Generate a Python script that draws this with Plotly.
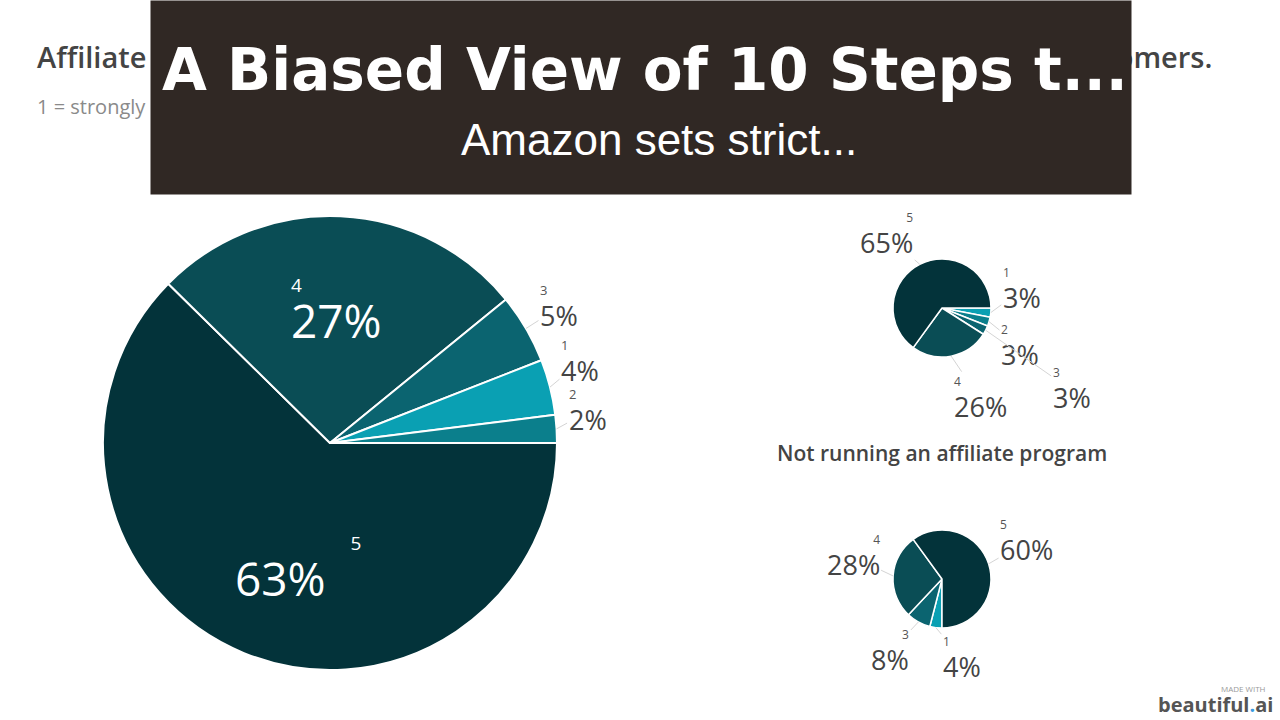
import math
import plotly.graph_objects as go

W, H = 1280, 720

# ---- data ----
main_labels = ["5", "4", "3", "1", "2"]
main_values = [63, 27, 5, 4, 2]
main_colors = ["#03333a", "#0a4d55", "#0b6470", "#0aa0b3", "#0b7f8c"]

run_labels = ["1", "2", "3", "4", "5"]
run_values = [3, 3, 3, 26, 65]
run_colors = ["#0aa0b3", "#0b7f8c", "#0b6470", "#0a4d55", "#03333a"]

not_labels = ["1", "3", "4", "5"]
not_values = [4, 8, 28, 60]
not_colors = ["#0aa0b3", "#0b6470", "#0a4d55", "#03333a"]

title_left = "Affiliate programs"
title_right = "new customers."
subtitle_text = "1 = strongly disagree, 5 = strongly agree"
run_title = "Running an affiliate program"
not_title = "Not running an affiliate program"
banner_title = "A Biased View of 10 Steps t..."
banner_sub = "Amazon sets strict..."
brand_small = "MADE WITH"
brand = "beautiful<span style='color:#3a9be0'>.</span>ai"

FONT = "Open Sans"

# ---- layout / style (pixels) ----
MAIN = dict(cx=330, cy=443, r=227, rot=90)
RUN = dict(cx=942, cy=308, r=49, rot=90)
NOT = dict(cx=942, cy=579, r=49, rot=180)

# label placement styles
MAIN_LBL = {"5": ("in", 0.60, 20, "right"), "4": ("in", 0.58, 0, "left"),
            "3": ("out", 33, -21, "left"), "1": ("out", 30, -25, "left"),
            "2": ("out", 31, -17, "left")}
RUN_LBL = {"1": (31, -23, "left"), "2": (31, 25, "left"), "3": (86, 60, "left"),
           "4": (29, 43, "left"), "5": (-33, -29, "right")}
NOT_LBL = {"1": (26, 31, "left"), "3": (-28, 30, "right"), "4": (-40, -19, "right"),
           "5": (38, -22, "left")}


def px(x):
    return x / W


def py(y):
    return 1 - y / H


def dom(p):
    return dict(x=[px(p["cx"] - p["r"]), px(p["cx"] + p["r"])],
                y=[py(p["cy"] + p["r"]), py(p["cy"] - p["r"])])


def mid_angles(values, rot):
    """clockwise angles (deg from 12 o'clock) of slice middles"""
    tot = sum(values)
    out, cum = [], 0
    for v in values:
        out.append(rot + 360.0 * (cum + v / 2) / tot)
        cum += v
    return out


def point(p, theta, k=1.0):
    t = math.radians(theta)
    return p["cx"] + k * p["r"] * math.sin(t), p["cy"] - k * p["r"] * math.cos(t)


def pie(labels, values, colors, p, lw):
    return go.Pie(
        labels=labels, values=values, sort=False,
        direction="clockwise", rotation=p["rot"],
        marker=dict(colors=colors, line=dict(color="white", width=lw)),
        domain=dom(p), textinfo="none",
        showlegend=False, hoverinfo="skip",
    )


def out_label(p, theta, lab, val, dx, dy, align, dsize=12):
    x, y = point(p, theta)
    return dict(
        x=px(x), y=py(y), xref="paper", yref="paper",
        text=(f"<span style='font-size:{dsize}px;color:#555555'>{lab}</span><br>"
              f"<span style='font-size:27px'>{val}%</span>"),
        showarrow=True, arrowhead=0, arrowwidth=1, arrowcolor="#d4d4d4",
        ax=dx, ay=dy, align=align,
        font=dict(family=FONT, size=24, color="#444444"),
    )


fig = go.Figure()
fig.add_trace(pie(main_labels, main_values, main_colors, MAIN, 2))
fig.add_trace(pie(run_labels, run_values, run_colors, RUN, 1.5))
fig.add_trace(pie(not_labels, not_values, not_colors, NOT, 1.5))

ann = []
# big pie labels
for lab, val, th in zip(main_labels, main_values, mid_angles(main_values, MAIN["rot"])):
    kind, a, b, align = MAIN_LBL[lab]
    if kind == "in":
        x, y = point(MAIN, th, a)
        pad = "&nbsp;&nbsp;&nbsp;" if align == "right" else ""
        ann.append(dict(
            x=px(x), y=py(y), xref="paper", yref="paper", showarrow=False,
            xanchor="center", yanchor="middle", xshift=b, align=align,
            text=(f"<span style='font-size:19px'>{lab}</span><br>"
                  f"<span style='font-size:46px'>{val}%{pad}</span>"),
            font=dict(family=FONT, size=35, color="white"),
        ))
    else:
        ann.append(out_label(MAIN, th, lab, val, a, b, align, dsize=13))

for lab, val, th in zip(run_labels, run_values, mid_angles(run_values, RUN["rot"])):
    dx, dy, align = RUN_LBL[lab]
    ann.append(out_label(RUN, th, lab, val, dx, dy, align))

for lab, val, th in zip(not_labels, not_values, mid_angles(not_values, NOT["rot"])):
    dx, dy, align = NOT_LBL[lab]
    ann.append(out_label(NOT, th, lab, val, dx, dy, align))

texts = []
texts.append(dict(text=title_left, x=px(35), y=py(57), xanchor="left", yanchor="middle",
                  font=dict(family=FONT, size=29, color="#444444", weight=600)))
texts.append(dict(text=title_right, x=px(1214), y=py(57), xanchor="right", yanchor="middle",
                  font=dict(family=FONT, size=29, color="#444444", weight=600)))
texts.append(dict(text=subtitle_text, x=px(35), y=py(106), xanchor="left", yanchor="middle",
                  font=dict(family=FONT, size=20, color="#8a8a8a")))
texts.append(dict(text=run_title, x=px(938), y=py(175), xanchor="center", yanchor="middle",
                  font=dict(family=FONT, size=21, color="#444444", weight=600)))
texts.append(dict(text=not_title, x=px(942), y=py(453), xanchor="center", yanchor="middle",
                  font=dict(family=FONT, size=21, color="#444444", weight=600)))
texts.append(dict(text=brand_small, x=px(1243), y=py(688), xanchor="center", yanchor="middle",
                  font=dict(family=FONT, size=8, color="#9a9a9a")))
texts.append(dict(text=brand, x=px(1215), y=py(704), xanchor="center", yanchor="middle",
                  font=dict(family=FONT, size=20, color="#555555", weight=700)))
# banner on top of everything
texts.append(dict(text=" ", x=px(150), y=py(0), xanchor="left", yanchor="top",
                  width=980, height=193, bgcolor="#302824", borderpad=0,
                  font=dict(size=10, color="#302824")))
texts.append(dict(text="<b>" + banner_title + "</b>", x=px(645), y=py(70),
                  xanchor="center", yanchor="middle",
                  font=dict(family="DejaVu Sans", size=58, color="white")))
texts.append(dict(text=banner_sub, x=px(659), y=py(140), xanchor="center", yanchor="middle",
                  font=dict(family="Liberation Sans", size=44, color="white")))
for a in texts:
    a.update(xref="paper", yref="paper", showarrow=False)

fig.update_layout(
    width=W, height=H, margin=dict(l=0, r=0, t=0, b=0),
    paper_bgcolor="white", plot_bgcolor="white",
    annotations=ann + texts,
)

fig.write_html("out.html", config={"displayModeBar": False},
               post_script="document.body.style.margin='0px';")
